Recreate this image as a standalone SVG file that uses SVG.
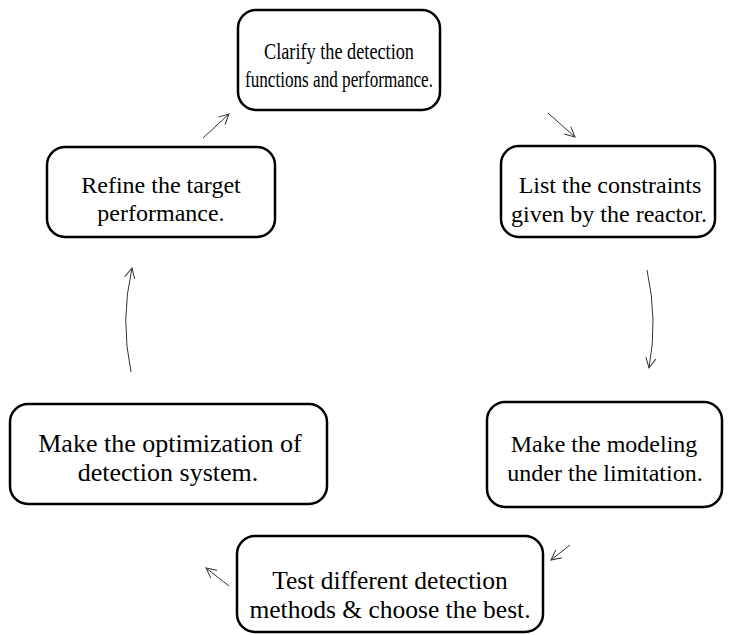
<svg xmlns="http://www.w3.org/2000/svg" width="735" height="635" viewBox="0 0 735 635">
<defs>
<style>
.box{fill:#fff;stroke:#000;stroke-width:2.5}
.t{font-family:"Liberation Serif","Times New Roman",serif;font-size:24px;fill:#000;text-anchor:middle}
.s22{font-size:22.5px}
.s25{font-size:25.5px}
.s26{font-size:26px}
.c{fill:none;stroke:#333;stroke-width:1}
</style>
<marker id="ah" markerWidth="14" markerHeight="14" refX="12" refY="7" orient="auto" markerUnits="userSpaceOnUse">
<path d="M2,2 L12,7 L2,12" fill="none" stroke="#333" stroke-width="1"/>
</marker>
</defs>
<rect width="735" height="635" fill="#fff"/>
<g id="n1"><rect class="box" x="238" y="10" width="202" height="100" rx="18"/>
<text class="t s22" x="339" y="59" textLength="150" lengthAdjust="spacingAndGlyphs">Clarify the detection</text><text class="t s22" x="339" y="87" textLength="188" lengthAdjust="spacingAndGlyphs">functions and performance.</text></g>
<g id="n2"><rect class="box" x="501" y="146" width="214" height="91" rx="18"/>
<text class="t" x="610" y="193">List the constraints</text><text class="t" x="609" y="222">given by the reactor.</text></g>
<g id="n3"><rect class="box" x="487" y="402" width="235" height="105" rx="18"/>
<text class="t" x="604" y="452">Make the modeling</text><text class="t" x="605" y="481">under the limitation.</text></g>
<g id="n4"><rect class="box" x="237" y="536" width="306" height="96" rx="18"/>
<text class="t s25" x="390" y="589">Test different detection</text><text class="t s25" x="390" y="618">methods &amp; choose the best.</text></g>
<g id="n5"><rect class="box" x="10" y="404" width="317" height="100" rx="18"/>
<text class="t s26" x="170" y="452">Make the optimization of</text><text class="t s26" x="168" y="481">detection system.</text></g>
<g id="n6"><rect class="box" x="47" y="147" width="228" height="90" rx="18"/>
<text class="t" x="161" y="193">Refine the target</text><text class="t" x="161" y="221">performance.</text></g>
<g id="connectors">
<path class="c" d="M203,138 L229,114" marker-end="url(#ah)"/>
<path class="c" d="M548,113 L575,137" marker-end="url(#ah)"/>
<path class="c" d="M647,270 Q658,320 649,368" marker-end="url(#ah)"/>
<path class="c" d="M570,545 L551,560" marker-end="url(#ah)"/>
<path class="c" d="M229,586 L206,568" marker-end="url(#ah)"/>
<path class="c" d="M131,372 Q120,320 132,268" marker-end="url(#ah)"/>
</g>
</svg>
